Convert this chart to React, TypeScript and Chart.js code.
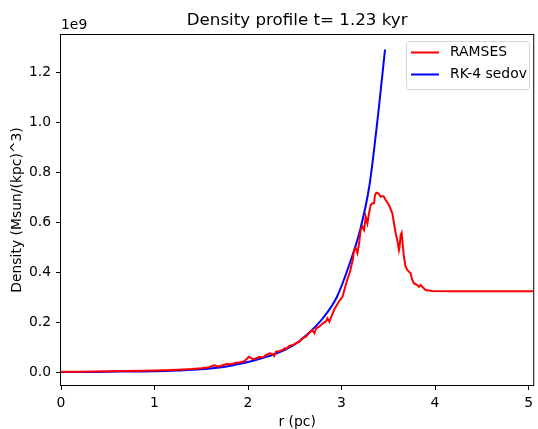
import React, { useEffect, useRef } from "react";
import { Chart, registerables } from "chart.js";

Chart.register(...registerables);

// ---- data (density in units of 1e9 Msun/kpc^3) ----
const ramsesR = [
  0.0, 0.2, 0.35, 0.5, 0.7, 0.9, 1.1, 1.25, 1.4, 1.5, 1.58, 1.64, 1.68, 1.72, 1.77, 1.82, 1.87, 1.92, 1.96,
  2.01, 2.05, 2.09, 2.12, 2.16, 2.19, 2.23, 2.26, 2.28, 2.3, 2.34, 2.37, 2.39, 2.41, 2.44, 2.48, 2.51, 2.55,
  2.58, 2.62, 2.65, 2.69, 2.71, 2.73, 2.76, 2.8, 2.83, 2.85, 2.87, 2.89, 2.92, 2.95, 2.97, 3.01, 3.03, 3.06,
  3.09, 3.12, 3.134, 3.152, 3.17, 3.188, 3.205, 3.223, 3.241, 3.259, 3.277, 3.294, 3.312, 3.33, 3.348, 3.358,
  3.373, 3.394, 3.419, 3.436, 3.454, 3.472, 3.507, 3.543, 3.561, 3.579, 3.596, 3.614, 3.621, 3.632, 3.643,
  3.65, 3.667, 3.685, 3.703, 3.739, 3.756, 3.774, 3.81, 3.827, 3.845, 3.863, 3.899, 3.969, 4.2, 4.6, 5.05,
];
const ramsesRho = [
  0.001, 0.001, 0.002, 0.003, 0.004, 0.005, 0.007, 0.009, 0.012, 0.015, 0.019, 0.027, 0.022, 0.026, 0.032,
  0.031, 0.037, 0.039, 0.043, 0.061, 0.051, 0.055, 0.061, 0.058, 0.068, 0.075, 0.072, 0.064, 0.081, 0.084,
  0.088, 0.095, 0.093, 0.104, 0.108, 0.115, 0.121, 0.135, 0.141, 0.155, 0.168, 0.155, 0.175, 0.181, 0.195,
  0.201, 0.215, 0.201, 0.221, 0.248, 0.268, 0.281, 0.301, 0.328, 0.368, 0.4, 0.448, 0.488, 0.495, 0.475,
  0.515, 0.568, 0.581, 0.568, 0.621, 0.595, 0.635, 0.668, 0.675, 0.675, 0.708, 0.717, 0.715, 0.701, 0.704,
  0.701, 0.688, 0.668, 0.635, 0.595, 0.555, 0.528, 0.488, 0.501, 0.548, 0.557, 0.528, 0.461, 0.421, 0.408,
  0.395, 0.368, 0.355, 0.348, 0.341, 0.348, 0.341, 0.328, 0.324, 0.323, 0.323, 0.323,
];
const sedovR = [0.0, 0.35, 0.75, 1.0, 1.25, 1.5, 1.75, 1.9, 2.0, 2.1, 2.25, 2.4, 2.5, 2.62, 2.8, 2.95, 3.1, 3.2, 3.3, 3.4, 3.465];
const sedovRho = [0.0, 0.0005, 0.002, 0.003, 0.006, 0.011, 0.021, 0.032, 0.04, 0.05, 0.067, 0.09, 0.11, 0.146, 0.215, 0.3, 0.448, 0.57, 0.75, 1.06, 1.29];

const xTicks = [0, 1, 2, 3, 4, 5];
const yTicks = [0.0, 0.2, 0.4, 0.6, 0.8, 1.0, 1.2];
const titleText = "Density profile t= 1.23 kyr";
const xLabel = "r (pc)";
const yLabel = "Density (Msun/(kpc)^3)";
const offsetText = "1e9";
const seriesNames = ["RAMSES", "RK-4 sedov"];
const seriesColors = ["#ff0000", "#0000ff"];

const FONT = "'DejaVu Sans', sans-serif";
const FS = 13.9;

const decorPlugin = {
  id: "decor",
  afterDraw(chart: any) {
    const { ctx, chartArea } = chart;
    const { left, right, top, bottom } = chartArea;
    ctx.save();
    // frame
    ctx.strokeStyle = "#000";
    ctx.lineWidth = 1;
    ctx.strokeRect(left - 0.5, top - 0.5, right - left + 1, bottom - top + 1);
    // title
    ctx.fillStyle = "#000";
    ctx.font = `16.7px ${FONT}`;
    ctx.textAlign = "center";
    ctx.textBaseline = "middle";
    ctx.fillText(titleText, (left + right) / 2, 20.5);
    // offset text
    ctx.font = `${FS}px ${FONT}`;
    ctx.textAlign = "left";
    ctx.fillText(offsetText, left, 25);
    // legend
    const bx = 406.5, by = 41.5, bw = 123, bh = 48;
    ctx.beginPath();
    const r = 3;
    ctx.moveTo(bx + r, by);
    ctx.lineTo(bx + bw - r, by);
    ctx.quadraticCurveTo(bx + bw, by, bx + bw, by + r);
    ctx.lineTo(bx + bw, by + bh - r);
    ctx.quadraticCurveTo(bx + bw, by + bh, bx + bw - r, by + bh);
    ctx.lineTo(bx + r, by + bh);
    ctx.quadraticCurveTo(bx, by + bh, bx, by + bh - r);
    ctx.lineTo(bx, by + r);
    ctx.quadraticCurveTo(bx, by, bx + r, by);
    ctx.closePath();
    ctx.fillStyle = "rgba(255,255,255,0.8)";
    ctx.fill();
    ctx.strokeStyle = "#d6d6d6";
    ctx.stroke();
    const rows = [52.5, 74.5];
    seriesNames.forEach((name, i) => {
      ctx.strokeStyle = seriesColors[i];
      ctx.lineWidth = 2;
      ctx.beginPath();
      ctx.moveTo(411, rows[i]);
      ctx.lineTo(439, rows[i]);
      ctx.stroke();
      ctx.fillStyle = "#000";
      ctx.font = `${FS}px ${FONT}`;
      ctx.textAlign = "left";
      ctx.textBaseline = "middle";
      ctx.fillText(name, 450, rows[i]);
    });
    ctx.restore();
  },
};

export default function App() {
  const ref = useRef<HTMLCanvasElement | null>(null);
  useEffect(() => {
    if (!ref.current) return;
    const chart = new Chart(ref.current, {
      type: "line",
      data: {
        datasets: [
          {
            label: seriesNames[0],
            data: ramsesR.map((x, i) => ({ x, y: ramsesRho[i] })),
            borderColor: seriesColors[0],
            borderWidth: 2,
            pointRadius: 0,
            tension: 0,
            fill: false,
          },
          {
            label: seriesNames[1],
            data: sedovR.map((x, i) => ({ x, y: sedovRho[i] })),
            borderColor: seriesColors[1],
            borderWidth: 2,
            pointRadius: 0,
            cubicInterpolationMode: "monotone",
            fill: false,
          },
        ],
      },
      options: {
        animation: false,
        responsive: false,
        layout: { padding: { left: 0, right: 3, top: 35, bottom: 0 } },
        plugins: { legend: { display: false }, title: { display: false }, tooltip: { enabled: false } },
        scales: {
          x: {
            type: "linear",
            min: 0,
            max: 5.05,
            afterFit: (s: any) => { s.height = 44; },
            afterBuildTicks: (s: any) => { s.ticks = xTicks.map((v) => ({ value: v })); },
            grid: { drawOnChartArea: false, drawTicks: true, tickLength: 5, color: "#000", tickColor: "#000" },
            border: { display: false },
            ticks: { color: "#000", font: { family: FONT, size: FS }, padding: 5, maxRotation: 0, callback: (v: any) => String(v) },
            title: { display: true, text: xLabel, color: "#000", font: { family: FONT, size: FS }, padding: { top: 0, bottom: -2 } },
          },
          y: {
            type: "linear",
            min: -0.052,
            max: 1.348,
            afterFit: (s: any) => { s.width = 61; },
            afterBuildTicks: (s: any) => { s.ticks = yTicks.map((v) => ({ value: v })); },
            grid: { drawOnChartArea: false, drawTicks: true, tickLength: 5, color: "#000", tickColor: "#000" },
            border: { display: false },
            ticks: { color: "#000", font: { family: FONT, size: FS }, padding: 5, callback: (v: any) => Number(v).toFixed(1) },
            title: { display: true, text: yLabel, color: "#000", font: { family: FONT, size: FS }, padding: { top: 9.5, bottom: 0 } },
          },
        },
      },
      plugins: [decorPlugin],
    } as any);
    return () => chart.destroy();
  }, []);
  return (
    <div style={{ position: "fixed", left: 0, top: 0, width: 538, height: 429, background: "#fff" }}>
      <canvas ref={ref} width={538} height={429} style={{ display: "block" }} />
    </div>
  );
}
